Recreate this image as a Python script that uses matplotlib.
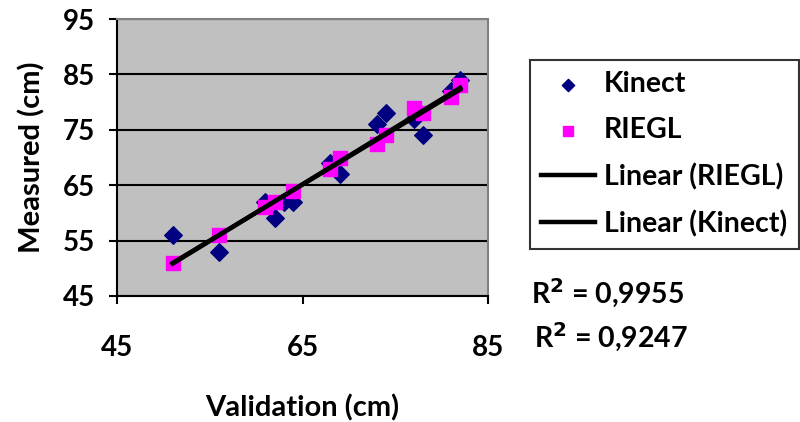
import numpy as np
import matplotlib.pyplot as plt

plt.rcParams['font.family'] = ['Lato', 'DejaVu Sans']
plt.rcParams['font.weight'] = 'bold'
plt.rcParams['mathtext.default'] = 'bf'

# Kinect measurements (navy diamonds)
kinect_x = [51, 56, 61, 62, 63, 64, 68, 69, 73, 74, 77, 78, 81, 82]
kinect_y = [56, 53, 62, 59, 62, 62, 69, 67, 76, 78, 77, 74, 82, 84]

# RIEGL measurements (magenta squares)
riegl_x = [51, 56, 61, 62, 64, 68, 69, 73, 74, 77, 78, 81, 82]
riegl_y = [51, 56, 61, 62, 64, 68, 70, 72.5, 74, 79, 78, 81, 83]

r2_riegl = '0,9955'
r2_kinect = '0,9247'

x_ticks = [45, 65, 85]
y_ticks = [45, 55, 65, 75, 85, 95]

fig = plt.figure(figsize=(8, 4.22), dpi=100)
ax = fig.add_axes([117 / 800, 1 - 296 / 422, (488 - 117) / 800, (296 - 19) / 422])
ax.set_facecolor('#c0c0c0')

ax.scatter(kinect_x, kinect_y, marker='D', s=80, color='#000080', zorder=3, label='Kinect')
ax.scatter(riegl_x, riegl_y, marker='s', s=115, color='#ff00ff', zorder=3, label='RIEGL')

# trend lines
kx = np.array(kinect_x, dtype=float)
rx = np.array(riegl_x, dtype=float)
pr = np.polyfit(rx, riegl_y, 1)
pk = np.polyfit(kx, kinect_y, 1)
xr = np.array([rx.min(), rx.max()])
xk = np.array([kx.min(), kx.max()])
ax.plot(xr, np.polyval(pr, xr), color='black', lw=3.2, zorder=4, label='Linear (RIEGL)')
ax.plot(xk, np.polyval(pk, xk), color='black', lw=3.2, zorder=4, label='Linear (Kinect)')

ax.set_xlim(45, 85)
ax.set_ylim(45, 95)
ax.set_xticks(x_ticks)
ax.set_yticks(y_ticks)
ax.yaxis.grid(True, color='black', lw=1.5)
ax.set_axisbelow(True)
ax.tick_params(labelsize=20, width=1.5, length=6, color='black')
ax.tick_params(axis='x', pad=22)
ax.tick_params(axis='y', pad=10)
for lab in ax.get_xticklabels() + ax.get_yticklabels():
    lab.set_fontweight('bold')

for s in ['top', 'right']:
    ax.spines[s].set_color('#808080')
    ax.spines[s].set_linewidth(1.5)
for s in ['left', 'bottom']:
    ax.spines[s].set_color('black')
    ax.spines[s].set_linewidth(1.5)

ax.set_xlabel('Validation (cm)', fontsize=21, fontweight='bold', labelpad=24)
ax.set_ylabel('Measured (cm)', fontsize=21, fontweight='bold', labelpad=12)

leg = fig.legend(loc='upper left', bbox_to_anchor=(530 / 800, 1 - 60 / 422),
                 fontsize=20.5, frameon=True, fancybox=False, edgecolor='black',
                 handlelength=1.9, labelspacing=0.7, borderpad=0.4,
                 handletextpad=0.3, borderaxespad=0, markerscale=0.7)
leg.get_frame().set_linewidth(1.5)
for t in leg.get_texts():
    t.set_fontweight('bold')

fig.text(531 / 800, 1 - 293 / 422, r'R$^{2}$ = ' + r2_riegl, fontsize=20.5,
         fontweight='bold', va='center')
fig.text(534 / 800, 1 - 337 / 422, r'R$^{2}$ = ' + r2_kinect, fontsize=20.5,
         fontweight='bold', va='center')

fig.savefig('out.png', dpi=100)
